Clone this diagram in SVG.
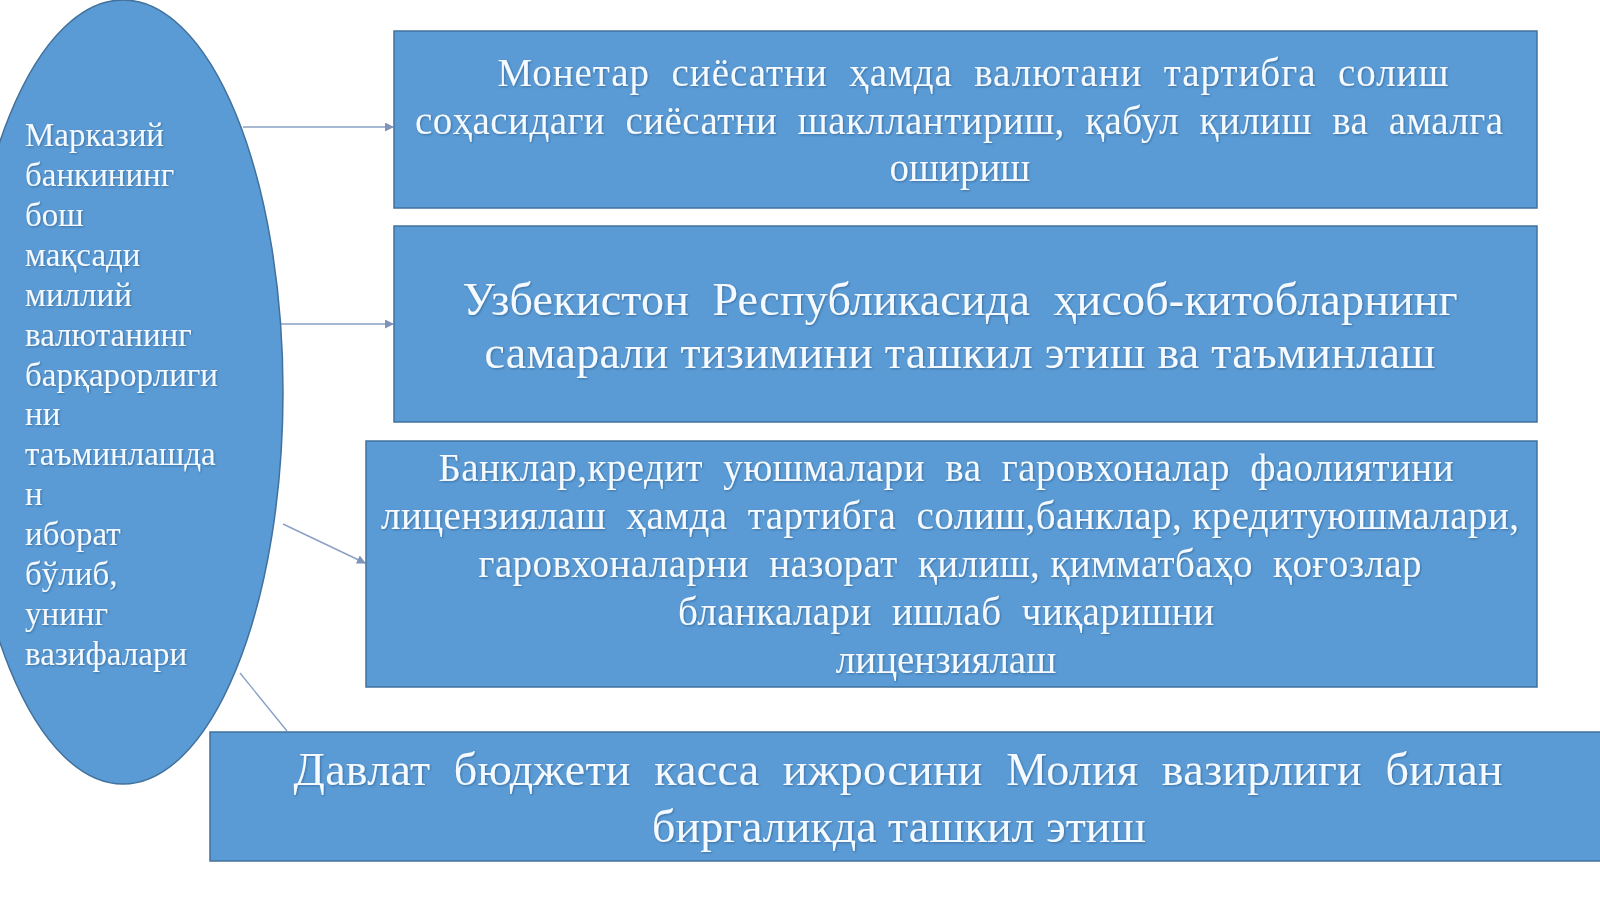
<svg xmlns="http://www.w3.org/2000/svg" width="1600" height="899" viewBox="0 0 1600 899">
<style>
.shape{fill:#5b9bd5;stroke:#41719c;stroke-width:1.5}
.t{font-family:"Liberation Serif","Times New Roman",serif;fill:#f4faff;white-space:pre;filter:url(#sh)}
.tl{font-size:33px}
.t1{font-size:39px;text-anchor:middle}
.t2{font-size:46px;text-anchor:middle}
.t3{font-size:39px;text-anchor:middle}
.t4{font-size:46px;text-anchor:middle}
.c{stroke:#8aa0c4;stroke-width:1.4;fill:none}
</style>
<defs>
<marker id="ah" markerWidth="9" markerHeight="9" refX="8" refY="4.5" orient="auto" markerUnits="userSpaceOnUse">
<path d="M0,0 L9,4.5 L0,9 z" fill="#7f93b8"/>
</marker>
<filter id="sh" x="-5%" y="-20%" width="110%" height="140%">
<feDropShadow dx="1" dy="1" stdDeviation="0.8" flood-color="#1d3d63" flood-opacity="0.45"/>
</filter>
</defs>
<rect width="1600" height="899" fill="#ffffff"/>
<g id="connectors">
<line class="c" x1="243" y1="127" x2="393" y2="127" marker-end="url(#ah)"/>
<line class="c" x1="281" y1="324" x2="393" y2="324" marker-end="url(#ah)"/>
<line class="c" x1="283" y1="524" x2="365" y2="563" marker-end="url(#ah)"/>
<line class="c" x1="240" y1="673" x2="287" y2="731"/>
</g>
<g id="goal">
<ellipse class="shape" cx="123" cy="392" rx="160" ry="392"/>
<text class="t tl" x="25">
<tspan x="25" y="146">Марказий</tspan>
<tspan x="25" y="186">банкининг</tspan>
<tspan x="25" y="226">бош</tspan>
<tspan x="25" y="266">мақсади</tspan>
<tspan x="25" y="306">миллий</tspan>
<tspan x="25" y="346">валютанинг</tspan>
<tspan x="25" y="386">барқарорлиги</tspan>
<tspan x="25" y="425">ни</tspan>
<tspan x="25" y="465">таъминлашда</tspan>
<tspan x="25" y="505">н</tspan>
<tspan x="25" y="545">иборат</tspan>
<tspan x="25" y="585">бўлиб,</tspan>
<tspan x="25" y="625">унинг</tspan>
<tspan x="25" y="665">вазифалари</tspan>
</text>
</g>
<g id="task1">
<rect class="shape" x="394" y="31" width="1143" height="177"/>
<text class="t t1" x="973" y="86" textLength="951" lengthAdjust="spacing">Монетар  сиёсатни  ҳамда  валютани  тартибга  солиш</text>
<text class="t t1" x="959" y="134" textLength="1088" lengthAdjust="spacing">соҳасидаги  сиёсатни  шакллантириш,  қабул  қилиш  ва  амалга</text>
<text class="t t1" x="960" y="181">ошириш</text>
</g>
<g id="task2">
<rect class="shape" x="394" y="226" width="1143" height="196"/>
<text class="t t2" x="960" y="315" textLength="995" lengthAdjust="spacing">Узбекистон  Республикасида  ҳисоб-китобларнинг</text>
<text class="t t2" x="960" y="368" textLength="951" lengthAdjust="spacing">самарали тизимини ташкил этиш ва таъминлаш</text>
</g>
<g id="task3">
<rect class="shape" x="366" y="441" width="1171" height="246"/>
<text class="t t3" x="946" y="481" textLength="1015" lengthAdjust="spacing">Банклар,кредит  уюшмалари  ва  гаровхоналар  фаолиятини</text>
<text class="t t3" x="950" y="529" textLength="1138" lengthAdjust="spacing">лицензиялаш  ҳамда  тартибга  солиш,банклар, кредитуюшмалари,</text>
<text class="t t3" x="950" y="577" textLength="943" lengthAdjust="spacing">гаровхоналарни  назорат  қилиш, қимматбаҳо  қоғозлар</text>
<text class="t t3" x="946" y="625" textLength="536" lengthAdjust="spacing">бланкалари  ишлаб  чиқаришни</text>
<text class="t t3" x="946" y="673">лицензиялаш</text>
</g>
<g id="task4">
<rect class="shape" x="210" y="732" width="1400" height="129"/>
<text class="t t4" x="898" y="785" textLength="1209" lengthAdjust="spacing">Давлат  бюджети  касса  ижросини  Молия  вазирлиги  билан</text>
<text class="t t4" x="899" y="842">биргаликда ташкил этиш</text>
</g>
</svg>
